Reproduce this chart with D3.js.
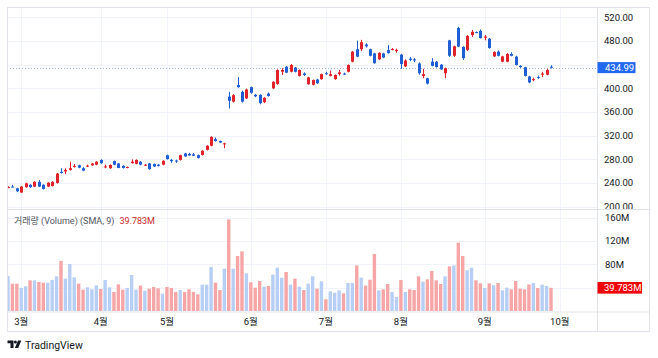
<!DOCTYPE html>
<html><head><meta charset="utf-8">
<script src="https://cdn.jsdelivr.net/npm/d3@7"></script>
<style>
html,body{margin:0;padding:0;background:#fff;}
svg{display:block;font-family:Roboto,"Noto Sans CJK KR","Noto Sans",sans-serif;}
</style></head><body>
<svg id="c" width="658" height="358"></svg>
<script>
// ---- data ----
const monthLabels = ["3월","4월","5월","6월","7월","8월","9월","10월"];
const monthIndex  = [3, 21, 36, 55, 72, 89, 108, 125];
const priceTicks = [200,240,280,320,360,400,440,480,520];
const priceTickLabels = ["200.00","240.00","280.00","320.00","360.00","400.00","","480.00","520.00"];
const volumeTicks = [40,80,120,160];
const volumeTickLabels = ["", "80M", "120M", "160M"];
const lastPrice = 434.99;
const lastVolume = 39.783;

const opens = [232.5,234,231,224,233,237,234,242,237,234,235,240,259,259.5,262,268,270,265,268,270,
271,279,267,265,277,273,269,266,273.5,272.5,276,270,273,272,271,271,287,279,278,279,
290,289,288.5,287,287.5,296,303,314,311,305.5,386,377.5,405.5,394,383,402,389,389,376.5,391,
400,407.5,428,436.5,428,435,421,425,407,406,415,415.5,425.5,421,415.5,424,425,428,445,466,
466,474,466,459,449,459,464.5,465,463,457,437,450,449,442,421,417,445,445,440,425.5,
481,455,502,470,465,490,495,497,485.5,484,454,462,445,445,458,453.5,438,435.5,420,414,
419,423,423,436.5];
const highs = [234.5,237,232,235,240.5,238,243,245,238,241.5,243,257,265,265,276,272,271,267,271,274,
277,280,271,271.5,278,274,270,268,280,280,277,272,274,273,272,278.5,288,281,279.5,288,
291,291,290.5,288,295.5,304,319,317,312,308,394,390,419,396,399.5,403,390.5,390,385,393,
412,432,434,437.5,441,436,432,427,419.5,415,416,425,428,430,423.5,431,426.5,440.5,463,480.5,
482,476,467,460,461,460,473,468,467,458,449,453,451,444,433,418,451,446,441,435,
482,472,504,471,490,498.5,496,499.5,490,485,462.5,464,455,459.5,461,455,439,436.5,421,418,
421.5,428,433,439];
const lows = [231.5,233,225,223,232,232,233,233,229,233,234,239,256,255,261,266,265,260,267,269,
270,272.5,265,264,270,265,264.5,265,273,271.5,270,269,262.5,267,268,270,279.5,274,274,278,
284,286,285.5,281.5,286.5,295,302,310,307.5,299,366,376,401,376,382,391,385,373,375,386,
399,406,422.5,425.5,427,427,420,421,406,405,407.5,414.5,423,420,414.5,421.5,422.5,427,444,452.5,
463,469,454,441.5,448,451,458.5,464,460,433,436,446,444,423,417,406.5,437,435,431,417,
453,453,469.5,448,463,487,493,484,481,467,453,454,444,444,454,438.5,434.5,420,408.5,412,
416,419,422,433.5];
const closes = [233,233.5,226,234,239.5,233,242,234,230,240.5,242,256,257,262,265,269,266,261,269.5,273,
276,273.5,268,270.5,271,265.5,265.5,267,276,279,271,271,263.5,268,269,277.5,280.5,277,276.5,287,
285,286.5,286,282.5,294.5,303,318,311,308.5,307,379,388.5,402,377.5,398,392.5,386.5,375,384,387,
411,431,431,426.5,439.5,428,431,422.5,418.5,414,408.5,424,424,424,422.5,427,424,439.5,462,453.5,
478,471,455,442.5,460,452,459.5,466.5,465,441,447,448,447,425.5,424,408,438,436,432,434,
455,471,470.5,451,488.5,495.5,494,485,487.5,468,461.5,455,454,458,455,439.5,436,421,410,415.5,
418,425,431,434.99];
const volumes = [60,46.9,46.9,39.5,42.3,52.6,52.6,49.7,48.6,48.6,
53.2,59.5,85.8,55.5,80.6,57.7,46.9,36.6,40.6,37.2,
44,37.7,53.2,40.6,32.6,45.7,36.6,39.5,61.7,36.6,
43.5,34.9,38.3,41.2,38.9,29.7,41.2,39.5,32.6,36,
32.6,37.2,32.6,28.6,45.2,45.2,75.5,48.6,36,72.6,
157,72.6,94.3,102.3,64.6,49.2,40,51.5,41.7,42.9,
62.3,74.3,57,66.9,45.2,55.5,41.7,36,46.9,59.5,
38.3,50.9,20,33.7,31.4,35.4,30.3,48,48,78.3,
57.2,43.5,53.7,97.8,35.4,37.2,46.3,32.6,24,53.2,
32.6,37.2,36,59.5,50.3,54.3,68.6,52.6,46.3,59.5,
76.6,78.3,117.2,94.3,69.8,74.3,52.6,47.5,39.5,47.5,
44,48,35.4,40,37.2,51.5,38.3,37.2,45.7,48,
39.5,45.2,42.9,39.783];

// ---- layout ----
const L = 7, R = 597, RB = 650, T = 7, PB = 209, VB = 311.5, B = 331;
const UP = "#e0232b", DOWN = "#1f5fd3";
const VUP = "#b7cff4", VDOWN = "#f6a6a6";
const GRID = "#f0f3fa", BORDER = "#e0e3eb", TXT = "#131722";

const svg = d3.select("#c");
const n = closes.length;
const x = d3.scaleLinear().domain([0, n - 1]).range([8, 551]);
const yP = d3.scaleLinear().domain([200, 520]).range([206.7, 17.3]);
const yV = d3.scaleLinear().domain([0, 160]).range([311, 217.7]);

svg.append("rect").attr("width", 658).attr("height", 358).attr("fill", "#fff");

const defs = svg.append("defs");
defs.append("clipPath").attr("id", "cp").append("rect").attr("x", L).attr("y", T).attr("width", R - L).attr("height", PB - T);
defs.append("clipPath").attr("id", "cv").append("rect").attr("x", L).attr("y", PB).attr("width", R - L).attr("height", VB - PB);
defs.append("clipPath").attr("id", "ca").append("rect").attr("x", R).attr("y", T).attr("width", RB - R).attr("height", PB - T);

// grids
const g = svg.append("g");
g.selectAll(".hp").data(priceTicks).join("line")
  .attr("x1", L).attr("x2", R).attr("y1", d => Math.round(yP(d)) + 0.5).attr("y2", d => Math.round(yP(d)) + 0.5)
  .attr("stroke", GRID);
g.selectAll(".hv").data(volumeTicks).join("line")
  .attr("x1", L).attr("x2", R).attr("y1", d => Math.round(yV(d)) + 0.5).attr("y2", d => Math.round(yV(d)) + 0.5)
  .attr("stroke", GRID);
g.selectAll(".vg").data(monthIndex).join("line")
  .attr("x1", d => Math.round(x(d)) + 0.5).attr("x2", d => Math.round(x(d)) + 0.5)
  .attr("y1", T).attr("y2", VB).attr("stroke", GRID);

// last price line
svg.append("line").attr("x1", L).attr("x2", R)
  .attr("y1", Math.round(yP(lastPrice)) + 0.5).attr("y2", Math.round(yP(lastPrice)) + 0.5)
  .attr("stroke", "#9fb3d4").attr("stroke-dasharray", "1,2");

// candles
const idx = d3.range(n);
const cg = svg.append("g").attr("clip-path", "url(#cp)");
cg.selectAll(".wick").data(idx).join("line")
  .attr("x1", i => Math.round(x(i)) + 0.5).attr("x2", i => Math.round(x(i)) + 0.5)
  .attr("y1", i => yP(highs[i])).attr("y2", i => yP(lows[i]))
  .attr("stroke", i => closes[i] >= opens[i] ? UP : DOWN).attr("stroke-width", 1);
cg.selectAll(".body").data(idx).join("rect")
  .attr("x", i => Math.round(x(i)) - 1)
  .attr("width", 3)
  .attr("y", i => yP(Math.max(opens[i], closes[i])))
  .attr("height", i => Math.max(1, Math.abs(yP(opens[i]) - yP(closes[i]))))
  .attr("fill", i => closes[i] >= opens[i] ? UP : DOWN);

// volume
const vg = svg.append("g").attr("clip-path", "url(#cv)");
vg.selectAll("rect").data(idx).join("rect")
  .attr("x", i => x(i) - 1.7).attr("width", 3.4)
  .attr("y", i => yV(volumes[i])).attr("height", i => yV(0) - yV(volumes[i]))
  .attr("fill", i => closes[i] >= opens[i] ? VUP : VDOWN);

// borders
svg.append("rect").attr("x", L + 0.5).attr("y", T + 0.5).attr("width", RB - L - 1).attr("height", B - T)
  .attr("fill", "none").attr("stroke", BORDER);
svg.append("line").attr("x1", R + 0.5).attr("x2", R + 0.5).attr("y1", T).attr("y2", B).attr("stroke", BORDER);
svg.append("line").attr("x1", L).attr("x2", RB).attr("y1", PB + 0.5).attr("y2", PB + 0.5).attr("stroke", BORDER);
svg.append("line").attr("x1", L).attr("x2", RB).attr("y1", VB + 0.5).attr("y2", VB + 0.5).attr("stroke", BORDER);

// price axis labels
const ax = svg.append("g").attr("clip-path", "url(#ca)").attr("font-size", "9.5px").attr("fill", TXT);
ax.selectAll("text").data(priceTicks).join("text")
  .attr("x", 604).attr("y", d => yP(d)).attr("dy", "0.35em").text((d, i) => priceTickLabels[i]);
// last price tag
svg.append("rect").attr("x", R + 0.5).attr("y", yP(lastPrice) - 5.5).attr("width", 38).attr("height", 11).attr("fill", "#2168f0");
svg.append("text").attr("x", 605).attr("y", yP(lastPrice)).attr("dy", "0.35em")
  .attr("font-size", "9.5px").attr("fill", "#fff").text(lastPrice.toFixed(2));

// volume axis labels
svg.append("g").attr("font-size", "9.5px").attr("fill", TXT)
  .selectAll("text").data(volumeTicks).join("text")
  .attr("x", 605).attr("y", d => yV(d)).attr("dy", "0.35em").text((d, i) => volumeTickLabels[i]);
svg.append("rect").attr("x", R + 0.5).attr("y", yV(lastVolume) - 5.8).attr("width", 44.5).attr("height", 11.6).attr("fill", "#f00000");
svg.append("text").attr("x", 604).attr("y", yV(lastVolume)).attr("dy", "0.35em")
  .attr("font-size", "9.5px").attr("fill", "#fff").text(lastVolume.toFixed(3) + "M");

// volume legend
const lg = svg.append("text").attr("x", 14).attr("y", 221).attr("dy", "0.35em").attr("font-size", "9px");
lg.append("tspan").attr("fill", "#50535e").text("거래량 (Volume) (SMA, 9)");
lg.append("tspan").attr("fill", "#c62828").attr("dx", 5).text(lastVolume.toFixed(3) + "M");

// time axis labels
svg.append("g").attr("font-size", "9.5px").attr("fill", TXT).attr("text-anchor", "middle")
  .selectAll("text").data(monthIndex).join("text")
  .attr("x", d => x(d)).attr("y", 321.5).attr("dy", "0.35em").text((d, i) => monthLabels[i]);

// TradingView logo
const logo = svg.append("g").attr("fill", TXT);
logo.append("path").attr("d", "M7.5,340.5 H13.5 V348 H10.5 V343.2 H7.5 Z");
logo.append("circle").attr("cx", 15.4).attr("cy", 342).attr("r", 1.5);
logo.append("path").attr("d", "M18,340.5 H21.3 L18.2,348 H14.9 Z");
svg.append("text").attr("x", 25).attr("y", 345).attr("dy", "0.35em").attr("font-size", "10.5px")
  .attr("fill", TXT).text("TradingView");
</script></body></html>
